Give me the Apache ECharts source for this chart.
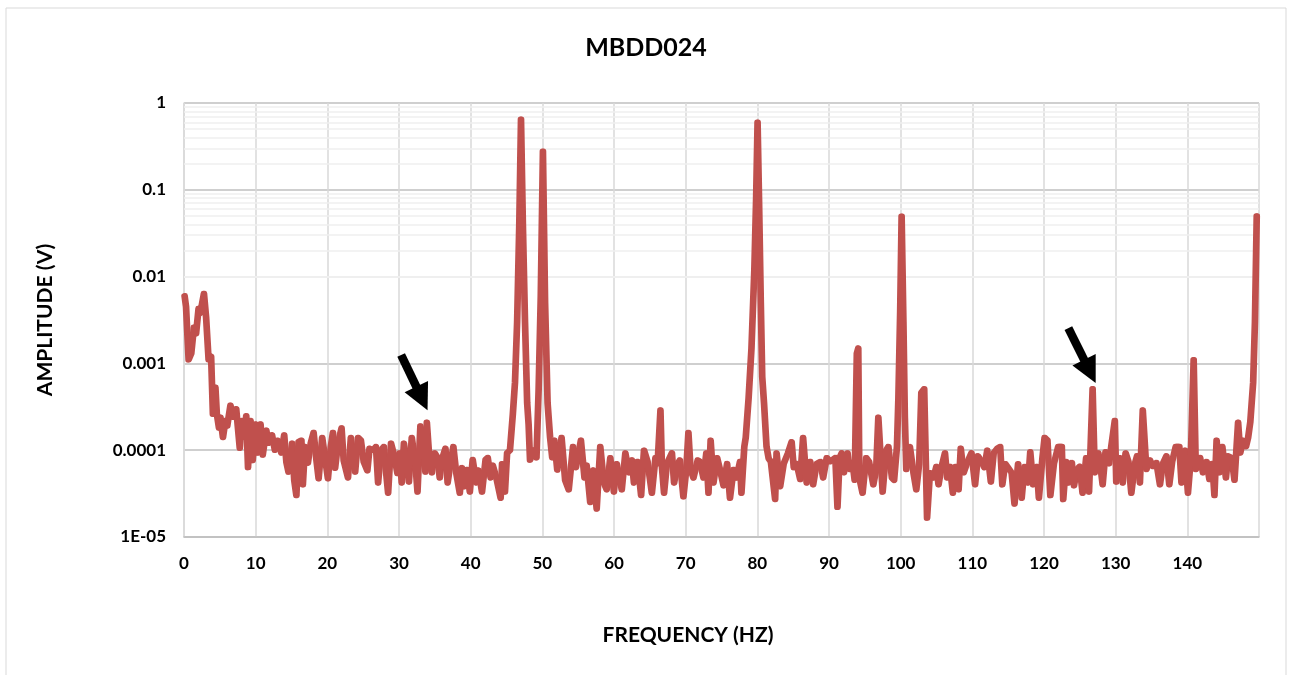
<!DOCTYPE html>
<html>
<head>
<meta charset="utf-8">
<script src="https://cdn.jsdelivr.net/npm/echarts@6/dist/echarts.min.js"></script>
<style>
  html, body { margin: 0; padding: 0; background: #fff; }
  #chart { width: 1292px; height: 675px; }
</style>
</head>
<body>
<div id="chart"></div>
<script>
// spectrum: frequency (Hz) and amplitude (V)
const freqHz = [
  0.0, 0.2, 0.56, 0.93, 1.3, 1.6, 1.95, 2.2, 2.7, 3.0, 3.35, 3.7, 3.95, 4.3, 4.5, 4.8, 5.0, 5.35, 5.7, 5.95,
  6.4, 6.75, 7.2, 7.7, 8.0, 8.4, 8.6, 8.85, 9.2, 9.5, 9.9, 10.2, 10.6, 10.9, 11.4, 11.7, 12.2, 12.6, 13.0, 13.5,
  13.9, 14.2, 14.5, 15.0, 15.3, 15.6, 15.9, 16.3, 16.5, 16.8, 17.2, 17.6, 18.0, 18.4, 18.7, 19.2, 19.5, 20.0, 20.4, 20.7,
  21.0, 21.4, 21.9, 22.2, 22.8, 23.2, 23.5, 23.8, 24.2, 24.6, 25.0, 25.5, 25.8, 26.3, 26.7, 27.0, 27.4, 27.8, 28.0, 28.4,
  28.8, 29.2, 29.7, 30.0, 30.3, 30.6, 30.9, 31.3, 31.7, 32.2, 32.5, 32.9, 33.3, 33.6, 33.8, 34.2, 34.5, 34.9, 35.3, 35.6,
  35.9, 36.4, 36.7, 37.1, 37.5, 37.9, 38.4, 38.7, 39.0, 39.4, 39.8, 40.2, 40.7, 41.0, 41.5, 42.0, 42.3, 42.7, 43.0, 43.5,
  44.1, 44.3, 44.7, 45.0, 45.4, 45.8, 46.1, 46.4, 46.7, 46.94, 47.2, 47.5, 47.8, 48.0, 48.2, 48.7, 49.1, 49.4, 49.7, 50.0,
  50.3, 50.65, 51.0, 51.3, 51.6, 52.0, 52.6, 53.1, 53.6, 54.2, 54.6, 55.3, 55.8, 56.1, 56.6, 57.0, 57.5, 58.0, 58.5, 58.9,
  59.4, 59.9, 60.3, 61.0, 61.5, 62.0, 62.4, 62.7, 63.2, 63.7, 64.1, 64.6, 65.2, 65.7, 66.0, 66.4, 66.6, 66.9, 67.3, 68.0,
  68.3, 68.8, 69.1, 69.6, 70.0, 70.3, 70.6, 71.0, 71.6, 71.9, 72.4, 72.8, 73.1, 73.4, 73.8, 74.3, 74.7, 75.2, 75.7, 76.1,
  76.6, 77.0, 77.5, 77.7, 78.1, 78.3, 78.7, 79.1, 79.5, 79.75, 79.95, 80.15, 80.4, 80.6, 80.85, 81.2, 81.5, 81.8, 82.4, 82.6,
  83.1, 83.6, 84.2, 84.7, 85.0, 85.4, 85.9, 86.3, 86.8, 87.3, 87.7, 88.2, 88.7, 89.1, 89.6, 90.1, 90.8, 91.1, 91.4, 91.7,
  92.0, 92.5, 92.8, 93.2, 93.5, 93.8, 94.0, 94.15, 94.6, 95.1, 95.5, 96.1, 96.5, 96.8, 97.0, 97.4, 97.9, 98.2, 98.7, 99.0,
  99.4, 99.6, 99.85, 100.05, 100.3, 100.5, 100.7, 101.2, 101.7, 102.1, 102.5, 102.8, 103.2, 103.6, 104.0, 104.5, 104.9, 105.2, 105.6, 106.1,
  106.4, 106.8, 107.2, 107.6, 108.0, 108.3, 108.7, 109.2, 109.8, 110.3, 110.7, 111.2, 111.6, 112.0, 112.5, 112.9, 113.4, 113.8, 114.1, 114.5,
  114.9, 115.4, 115.8, 116.3, 116.8, 117.2, 117.7, 118.0, 118.4, 118.9, 119.2, 119.7, 120.0, 120.4, 120.8, 121.3, 121.9, 122.4, 122.6, 123.0,
  123.3, 123.8, 124.1, 124.5, 124.9, 125.3, 125.8, 126.2, 126.7, 127.0, 127.5, 127.8, 128.1, 128.5, 129.0, 129.3, 129.8, 130.0, 130.5, 130.9,
  131.3, 131.7, 132.1, 132.6, 132.9, 133.3, 133.7, 134.2, 134.7, 135.1, 135.6, 136.1, 136.5, 137.0, 137.4, 137.8, 138.3, 138.8, 139.1, 139.6,
  140.0, 140.4, 140.8, 141.1, 141.7, 142.1, 142.6, 143.0, 143.4, 143.7, 144.0, 144.4, 144.8, 145.3, 145.6, 146.1, 146.5, 147.0, 147.3, 147.7,
  148.1, 148.4, 148.7, 149.1, 149.35, 149.6
];
const amplitudeV = [
  0.0060, 0.0045, 0.0011, 0.0013, 0.0026, 0.0022, 0.0043, 0.0038, 0.0064, 0.0034, 0.0011, 0.0012, 0.00026, 0.00053, 0.00026, 0.00018, 0.00024, 0.00014, 0.00022, 0.00019,
  0.00033, 0.00024, 0.00030, 0.000105, 0.00022, 0.00014, 0.00025, 0.000063, 0.00022, 0.000076, 0.0002, 0.000093, 0.0002, 0.000088, 0.00017, 0.00012, 0.00015, 0.0001, 0.00013, 0.000093,
  0.00015, 0.000073, 0.000056, 0.00012, 0.000045, 0.00003, 0.000125, 0.00013, 0.00004, 0.00011, 0.000071, 0.00012, 0.00016, 0.000076, 0.000047, 0.00014, 0.000093, 0.000047, 0.00011, 0.00016,
  0.000062, 0.00012, 0.00018, 0.000076, 0.000048, 0.00014, 0.000085, 0.000056, 0.00014, 0.00013, 0.000073, 0.000058, 0.000105, 0.0001, 0.00011, 0.000042, 0.0001, 0.00011, 0.00007, 0.000032,
  0.00012, 0.00009, 0.000054, 0.000093, 0.000042, 0.00012, 0.000082, 0.000043, 0.00014, 0.000071, 0.000033, 0.00019, 0.00013, 0.000056, 0.00021, 0.000071, 0.000055, 0.000093, 0.000082, 0.000048,
  0.000078, 0.000105, 0.000042, 0.000071, 0.00011, 0.000055, 0.000032, 0.000063, 0.000038, 0.00006, 0.000033, 0.000078, 0.000042, 0.000059, 0.000033, 0.000078, 0.000082, 0.000048, 0.000067, 0.000048,
  0.000028, 0.00007, 0.000033, 0.000093, 0.0001, 0.00026, 0.0006, 0.003, 0.04, 0.65, 0.04, 0.003, 0.00035, 0.0002, 0.000077, 0.0001, 0.000082, 0.0005, 0.006, 0.278,
  0.005, 0.00035, 0.00014, 0.000082, 0.00013, 0.000059, 0.00014, 0.000045, 0.000035, 0.00011, 0.000063, 0.00013, 0.000048, 0.000067, 0.000025, 0.000059, 0.000021, 0.00011, 0.000042, 0.000035,
  0.000082, 0.000033, 0.00007, 0.000035, 0.000093, 0.000055, 0.000077, 0.000042, 0.000074, 0.00003, 0.0001, 0.000074, 0.000032, 0.000082, 0.00007, 0.00029, 0.000065, 0.000032, 0.00007, 0.000093,
  0.000042, 0.00007, 0.000077, 0.000029, 0.00006, 0.00016, 0.00006, 0.000048, 0.000077, 0.000074, 0.000048, 0.000093, 0.000032, 0.00013, 0.000042, 0.000082, 0.00006, 0.000039, 0.00007, 0.000028,
  0.00006, 0.000048, 0.000074, 0.000032, 0.00011, 0.00014, 0.0004, 0.0015, 0.012, 0.08, 0.6, 0.08, 0.005, 0.0007, 0.00035, 0.00011, 0.00008, 0.000074, 0.000027, 0.000093,
  0.000038, 0.00007, 0.000093, 0.000125, 0.000063, 0.00007, 0.000046, 0.00014, 0.000042, 0.000074, 0.00004, 0.00007, 0.000074, 0.000048, 0.000082, 0.000074, 0.000082, 0.000022, 0.000082, 0.000093,
  0.000055, 0.000093, 0.00006, 0.000072, 0.000045, 0.0013, 0.0015, 0.000048, 0.000032, 0.000082, 0.000074, 0.00004, 0.00006, 0.00024, 0.00023, 0.000033, 0.0001, 0.00011, 0.000048, 0.000045,
  0.00011, 0.0004, 0.004, 0.0495, 0.003, 0.00024, 0.00006, 0.00011, 0.000055, 0.000035, 0.00007, 0.00046, 0.00051, 0.0000165, 0.000055, 0.000048, 0.000065, 0.00004, 0.000063, 0.000093,
  0.000048, 0.000065, 0.000032, 0.000065, 0.000035, 0.000105, 0.000055, 0.000072, 0.000093, 0.00004, 0.000086, 0.000074, 0.000063, 0.0001, 0.000043, 0.000093, 0.000105, 0.00011, 0.00004, 0.00007,
  0.000063, 0.000055, 0.000024, 0.00007, 0.000028, 0.000065, 0.000042, 0.000096, 0.00004, 0.000065, 0.000028, 0.000082, 0.00014, 0.00013, 0.00003, 0.00007, 0.00011, 0.00011, 0.000027, 0.000074,
  0.000042, 0.000072, 0.000039, 0.00006, 0.000065, 0.000032, 0.000082, 0.000033, 0.00051, 0.000055, 0.000093, 0.000065, 0.00004, 0.000096, 0.00007, 0.00011, 0.00022, 0.000043, 0.000082, 0.000042,
  0.000093, 0.000074, 0.000032, 0.00007, 0.000086, 0.000042, 0.00029, 0.00006, 0.000077, 0.000065, 0.000072, 0.00004, 0.00007, 0.000086, 0.00004, 0.000074, 0.00011, 0.00011, 0.000042, 0.0001,
  0.000032, 0.00008, 0.0011, 0.00006, 0.000082, 0.000055, 0.000074, 0.000046, 0.00007, 0.00003, 0.00013, 0.000055, 0.00011, 0.000048, 0.000086, 0.000082, 0.000045, 0.00021, 0.000093, 0.00013,
  0.00011, 0.00014, 0.00021, 0.0006, 0.003, 0.05
];

// the two arrows: [tail, head] in data coordinates
const arrowsAt = [
  [[30.3, 0.00125], [33.2, 0.000395]],
  [[123.4, 0.00255], [126.4, 0.00081]]
];

const yTickLabels = { '1': '1', '0.1': '0.1', '0.01': '0.01', '0.001': '0.001', '0.0001': '0.0001', '0.00001': '1E-05' };

const seriesData = freqHz.map((f, i) => [f, amplitudeV[i]]);

// light minor gridlines at 2..9 of each decade
const minorLines = [];
for (let e = -5; e < 0; e++) {
  for (let m = 2; m <= 9; m++) {
    minorLines.push({ yAxis: m * Math.pow(10, e) });
  }
}

const labelFont = 'Lato, "Open Sans", sans-serif';

var chart = echarts.init(document.getElementById('chart'));
chart.setOption({
  animation: false,
  backgroundColor: '#fff',
  title: {
    text: 'MBDD024',
    left: 'center',
    top: 30,
    textStyle: { fontFamily: labelFont, fontWeight: 'bold', fontSize: 25, color: '#000' }
  },
  graphic: [{
    type: 'rect',
    shape: { x: 6, y: 8, width: 1280, height: 700 },
    style: { fill: 'none', stroke: '#d9d9d9', lineWidth: 1 },
    silent: true,
    z: -1
  }],
  grid: { left: 184, right: 33, top: 103, bottom: 138 },
  xAxis: {
    type: 'value',
    min: 0,
    max: 150,
    interval: 10,
    name: 'FREQUENCY (HZ)',
    nameLocation: 'middle',
    nameGap: 88,
    nameTextStyle: { fontFamily: labelFont, fontWeight: 'bold', fontSize: 21, color: '#000', padding: [0, 67, 0, 0] },
    axisLine: { lineStyle: { color: '#bfbfbf', width: 1.5 } },
    axisTick: { show: false },
    axisLabel: {
      showMaxLabel: false,
      margin: 18,
      fontFamily: labelFont, fontWeight: 'bold', fontSize: 17, color: '#000'
    },
    splitLine: { lineStyle: { color: '#d9d9d9', width: 1.5 } }
  },
  yAxis: {
    type: 'log',
    logBase: 10,
    min: 0.00001,
    max: 1,
    name: 'AMPLITUDE (V)',
    nameLocation: 'middle',
    nameGap: 128,
    nameRotate: 90,
    nameTextStyle: { fontFamily: labelFont, fontWeight: 'bold', fontSize: 21, color: '#000' },
    axisLine: { show: true, lineStyle: { color: '#d9d9d9', width: 1.5 } },
    axisTick: { show: false },
    axisLabel: {
      margin: 18,
      fontFamily: labelFont, fontWeight: 'bold', fontSize: 17, color: '#000',
      formatter: function (v) {
        const k = String(Number(v.toPrecision(3)));
        return yTickLabels[k] !== undefined ? yTickLabels[k] : (v < 0.0001 ? '1E-05' : k);
      }
    },
    splitLine: { lineStyle: { color: '#bfbfbf', width: 1.5 } }
  },
  series: [
    {
      type: 'line',
      data: [],
      silent: true,
      z: 1,
      markLine: {
        silent: true,
        z: 1,
        symbol: 'none',
        label: { show: false },
        lineStyle: { color: '#efefef', width: 1.5, type: 'solid' },
        data: minorLines,
        animation: false
      }
    },
    {
      type: 'line',
      data: seriesData,
      showSymbol: false,
      z: 3,
      lineStyle: {
        color: '#C0504D', width: 5.5, join: 'round', cap: 'round',
        // a zero-blur shadow fills the hairline gaps that appear inside very narrow peaks
        shadowColor: '#C0504D', shadowBlur: 0, shadowOffsetX: 1.2, shadowOffsetY: 0
      },
      itemStyle: { color: '#C0504D' },
      markLine: {
        silent: true,
        z: 6,
        symbol: ['none', 'triangle'],
        symbolSize: 26,
        label: { show: false },
        lineStyle: { color: '#000', width: 8.5, type: 'solid' },
        data: arrowsAt.map(a => [{ coord: a[0] }, { coord: a[1] }]),
        animation: false
      }
    }
  ]
});
</script>
</body>
</html>
